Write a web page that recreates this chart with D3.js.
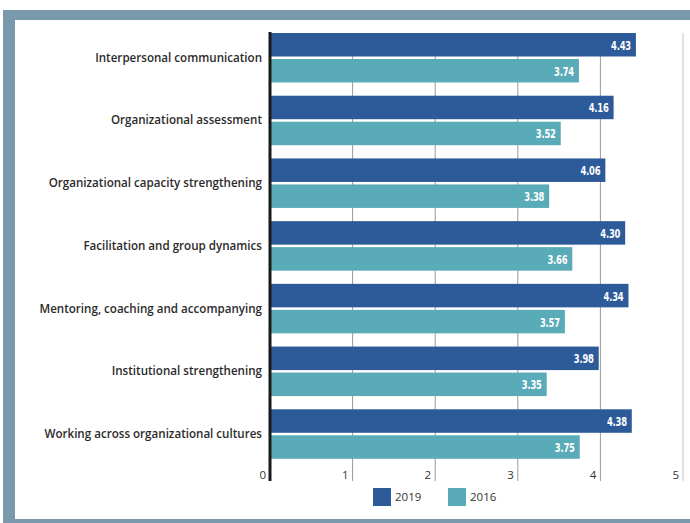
<!DOCTYPE html>
<html lang="en">

<head>
    <meta charset="UTF-8">
    <title>Skills 2019 vs 2016</title>
    <script src="https://d3js.org/d3.v7.min.js"></script>
    <style>
        html,
        body {
            margin: 0;
            padding: 0;
            overflow: hidden;
            background: #ffffff;
        }

        svg {
            display: block;
        }
    </style>
</head>

<body>
    <svg id="chart" width="690" height="523"></svg>

    <script>
        const categories = [
            "Interpersonal communication",
            "Organizational assessment",
            "Organizational capacity strengthening",
            "Facilitation and group dynamics",
            "Mentoring, coaching and accompanying",
            "Institutional strengthening",
            "Working across organizational cultures"
        ];
        const values_2019 = [4.43, 4.16, 4.06, 4.30, 4.34, 3.98, 4.38];
        const values_2016 = [3.74, 3.52, 3.38, 3.66, 3.57, 3.35, 3.75];
        const tick_values = [0, 1, 2, 3, 4, 5];
        const series_names = ["2019", "2016"];

        const colors = { "2019": "#2d5b9a", "2016": "#5aabb8" };

        const svg = d3.select("#chart");

        // frame
        svg.append("rect")
            .attr("x", 3).attr("y", 10)
            .attr("width", 690).attr("height", 513)
            .attr("fill", "#7b99ad");
        svg.append("rect")
            .attr("x", 15).attr("y", 20)
            .attr("width", 680).attr("height", 499)
            .attr("fill", "#ffffff");

        const x = d3.scaleLinear().domain([0, 5]).range([270, 683]);
        const y = d3.scaleBand().domain(categories).range([33, 472]).paddingInner(0).paddingOuter(0);

        const bar_h = 23.5;
        const gap = 2.5;

        // gridlines
        svg.append("g")
            .selectAll("line")
            .data(tick_values.slice(1))
            .enter().append("line")
            .attr("x1", d => x(d)).attr("x2", d => x(d))
            .attr("y1", 33).attr("y2", 481)
            .attr("stroke", d => d === 5 ? "#c4c4c4" : "#9a9a9a")
            .attr("stroke-width", 1);

        // tick labels
        svg.append("g")
            .selectAll("text")
            .data(tick_values)
            .enter().append("text")
            .attr("x", d => x(d) - 4)
            .attr("y", 479)
            .attr("text-anchor", "end")
            .attr("font-family", "Open Sans, sans-serif")
            .attr("font-size", "11.5px")
            .attr("fill", "#333")
            .text(d => d);

        const rows = categories.map((c, i) => ({ cat: c, v2019: values_2019[i], v2016: values_2016[i] }));

        const group = svg.append("g")
            .selectAll("g")
            .data(rows)
            .enter().append("g")
            .attr("transform", d => `translate(0,${y(d.cat)})`);

        group.append("rect")
            .attr("x", x(0)).attr("y", 0)
            .attr("width", d => x(d.v2019) - x(0))
            .attr("height", bar_h)
            .attr("fill", colors["2019"]);

        group.append("rect")
            .attr("x", x(0)).attr("y", bar_h + gap)
            .attr("width", d => x(d.v2016) - x(0))
            .attr("height", bar_h)
            .attr("fill", colors["2016"]);

        // condensed value labels: squeeze horizontally around the anchor point
        function valueLabel(sel, key, dy) {
            sel.append("text")
                .attr("transform", d => `translate(${x(d[key]) - 5},${dy}) scale(0.72,1)`)
                .attr("text-anchor", "end")
                .attr("font-family", "'DejaVu Sans Condensed', 'DejaVu Sans', sans-serif")
                .attr("font-weight", "bold")
                .attr("font-size", "13px")
                .attr("letter-spacing", "-0.3px")
                .attr("fill", "#fff")
                .text(d => d[key].toFixed(2));
        }
        valueLabel(group, "v2019", bar_h / 2 + 5);
        valueLabel(group, "v2016", bar_h + gap + bar_h / 2 + 5);

        // category labels
        group.append("text")
            .attr("x", 262)
            .attr("y", bar_h + gap / 2 + 4)
            .attr("text-anchor", "end")
            .attr("font-family", "Open Sans, sans-serif")
            .attr("font-weight", 600)
            .attr("font-size", "11.6px")
            .attr("fill", "#2b2b2b")
            .text(d => d.cat);

        // axis line
        svg.append("line")
            .attr("x1", x(0)).attr("x2", x(0))
            .attr("y1", 32).attr("y2", 481)
            .attr("stroke", "#1a1a1a")
            .attr("stroke-width", 3);

        // legend
        const legend = svg.append("g")
            .selectAll("g")
            .data(series_names)
            .enter().append("g")
            .attr("transform", (d, i) => `translate(${373 + i * 75},488)`);

        legend.append("rect")
            .attr("width", 18).attr("height", 18)
            .attr("fill", d => colors[d]);

        legend.append("text")
            .attr("x", 22).attr("y", 13)
            .attr("font-family", "Open Sans, sans-serif")
            .attr("font-size", "11.5px")
            .attr("fill", "#333")
            .text(d => d);
    </script>
</body>

</html>
